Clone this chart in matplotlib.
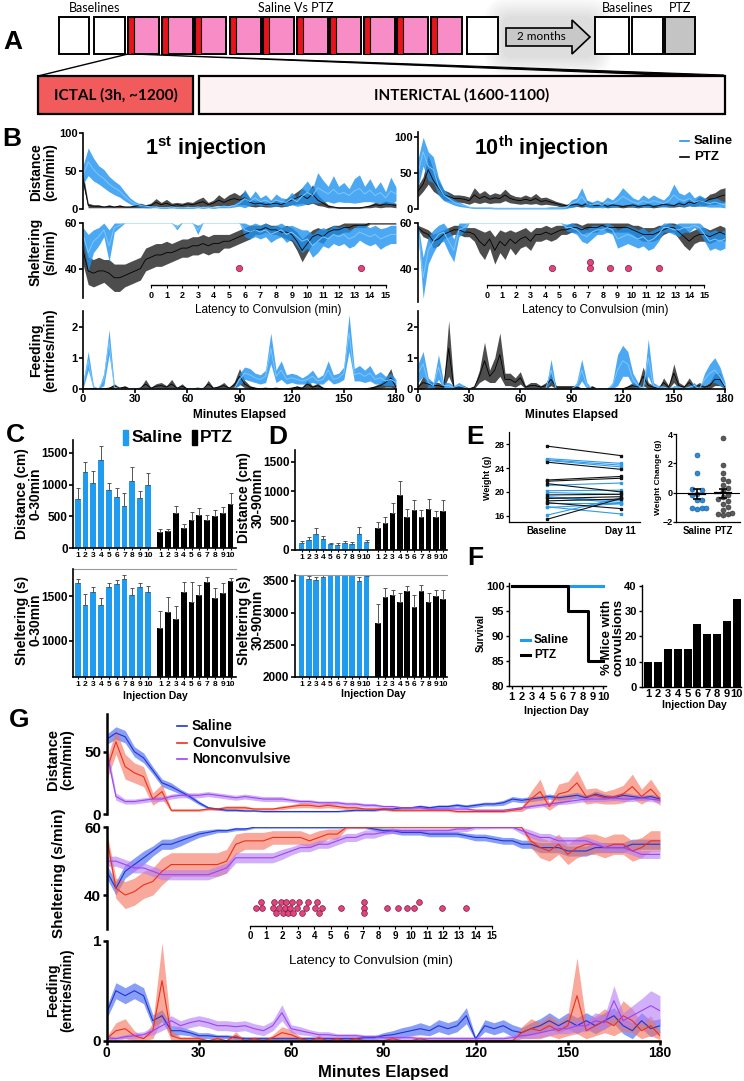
import numpy as np
import matplotlib
matplotlib.use("Agg")
import matplotlib.pyplot as plt
from matplotlib.patches import Rectangle, Polygon, FancyBboxPatch

plt.rcParams['font.family'] = ['Liberation Sans', 'DejaVu Sans']
plt.rcParams['font.weight'] = 'bold'
plt.rcParams['mathtext.fontset'] = 'custom'
plt.rcParams['mathtext.bf'] = 'Liberation Sans:bold'
plt.rcParams['mathtext.rm'] = 'Liberation Sans:bold'

W, H = 744, 1081

# ---------------- data ----------------
minutes = np.arange(0, 181, 3)

# panel B, 1st injection (mean, sem)
b1_dist_sal = [45, 62, 52, 45, 40, 33, 28, 24, 17, 11,
               7, 5, 4, 3, 3, 2, 2, 3, 2, 2,
               2, 2, 3, 2, 3, 2, 3, 4, 3, 5,
               8, 14, 10, 15, 10, 12, 8, 12, 10, 9,
               14, 10, 17, 22, 18, 28, 24, 20, 26, 20,
               22, 18, 24, 27, 20, 25, 18, 22, 15, 24, 20]
b1_dist_sal_sem = [12, 18, 15, 12, 12, 10, 9, 8, 6, 4,
                   3, 2, 2, 1, 1, 1, 1, 1, 1, 1,
                   1, 1, 1, 1, 1, 1, 1, 2, 1, 2,
                   4, 12, 5, 9, 5, 7, 4, 8, 5, 5,
                   8, 6, 12, 15, 9, 20, 14, 10, 18, 10,
                   13, 9, 16, 18, 10, 15, 9, 14, 8, 18, 9]
b1_dist_ptz = [40, 5, 4, 4, 3, 4, 3, 4, 3, 3,
               4, 5, 4, 5, 9, 6, 8, 5, 6, 5,
               7, 6, 8, 10, 6, 8, 12, 9, 12, 14,
               12, 15, 9, 7, 8, 6, 7, 8, 6, 9,
               12, 15, 18, 14, 20, 12, 8, 4, 3, 2,
               2, 2, 2, 2, 3, 4, 6, 5, 7, 6, 5]
b1_dist_ptz_sem = [8, 3, 2, 2, 1, 2, 1, 2, 1, 1,
                   2, 3, 2, 3, 5, 3, 5, 3, 3, 3,
                   3, 3, 5, 6, 3, 4, 7, 5, 7, 8,
                   6, 9, 5, 4, 4, 3, 4, 4, 3, 5,
                   6, 8, 10, 8, 12, 7, 4, 2, 1, 1,
                   1, 1, 1, 1, 1, 2, 3, 3, 4, 3, 3]
b1_shel_sal = [55, 47, 52, 54, 57, 50, 58, 59, 60, 60,
               60, 60, 60, 60, 60, 60, 60, 60, 58, 60,
               60, 60, 57, 60, 60, 60, 60, 60, 60, 60,
               60, 57, 56, 57, 56, 57, 55, 56, 57, 55,
               56, 54, 52, 53, 50, 52, 54, 53, 55, 54,
               55, 53, 54, 56, 55, 54, 55, 53, 54, 55, 55]
b1_shel_sal_sem = [3, 8, 5, 4, 3, 7, 2, 1, 0, 0,
                   0, 0, 0, 0, 0, 0, 0, 0, 1, 0,
                   0, 0, 2, 0, 0, 0, 0, 0, 0, 0,
                   0, 3, 3, 3, 3, 3, 3.5, 3, 3, 3.5,
                   3, 4, 5, 4, 5, 5, 4, 4, 4, 4,
                   4, 4, 4, 3.5, 4, 4, 4, 4.5, 4, 4, 4]
b1_shel_ptz = [48, 39, 38, 39, 39, 38, 36, 36, 37, 38,
               39, 40, 44, 45, 46, 46, 47, 47, 48, 49,
               49, 50, 50, 51, 50, 51, 51, 52, 52, 53,
               54, 55, 56, 57, 57, 58, 57, 57, 56, 56,
               55, 52, 48, 51, 54, 55, 54, 56, 57, 57,
               58, 58, 59, 59, 59, 60, 60, 60, 60, 60, 60]
b1_shel_ptz_sem = [6, 6, 6, 6, 5, 6, 6, 6, 5, 5,
                   5, 5, 5, 5, 5, 5, 5, 4, 4, 4,
                   4, 4, 4, 4, 4, 4, 4, 3, 3, 3,
                   3, 3, 3, 2, 2, 2, 2, 2, 2, 3,
                   3, 4, 5, 4, 3, 3, 3, 2, 2, 2,
                   2, 2, 1, 1, 1, 0.5, 0.5, 0.5, 0.5, 0.5, 0.5]
b1_feed_sal = [0.1, 0.9, 0.05, 0, 0.3, 1.5, 0.05, 0, 0, 0,
               0, 0, 0, 0, 0, 0, 0, 0, 0, 0,
               0, 0, 0, 0, 0, 0, 0, 0, 0, 0,
               0.3, 0.5, 0.45, 0.35, 0.3, 0.4, 1.3, 0.4, 0.6, 0.3,
               0.35, 0.3, 0.25, 0.3, 0.4, 0.25, 0.3, 0.6, 0.3, 0.35,
               0.5, 1.8, 0.45, 0.5, 0.4, 0.5, 0.3, 0.35, 0.25, 0.3, 0.2]
b1_feed_sal_sem = [0.1, 0.3, 0.05, 0, 0.2, 0.4, 0.05, 0, 0, 0,
                   0, 0, 0, 0, 0, 0, 0, 0, 0, 0,
                   0, 0, 0, 0, 0, 0, 0, 0, 0, 0,
                   0.2, 0.2, 0.2, 0.15, 0.15, 0.2, 0.5, 0.2, 0.3, 0.15,
                   0.15, 0.15, 0.1, 0.15, 0.2, 0.1, 0.15, 0.3, 0.15, 0.15,
                   0.2, 0.6, 0.2, 0.25, 0.2, 0.25, 0.15, 0.2, 0.15, 0.2, 0.1]
b1_feed_ptz = [0, 0, 0, 0, 0, 0.02, 0.08, 0.02, 0.05, 0,
               0, 0.02, 0.15, 0.02, 0.08, 0.1, 0.05, 0.15, 0.02, 0.08,
               0, 0, 0.02, 0, 0.15, 0.02, 0.05, 0.1, 0.02, 0.12,
               0.4, 0.15, 0.05, 0.02, 0, 0.02, 0, 0.02, 0, 0,
               0.02, 0.05, 0.02, 0.15, 0.05, 0.1, 0.02, 0, 0, 0,
               0, 0, 0, 0, 0, 0.02, 0.05, 0.1, 0.2, 0.35, 0.05]
b1_feed_ptz_sem = [0, 0, 0, 0, 0, 0.02, 0.08, 0.02, 0.05, 0,
                   0, 0.02, 0.15, 0.02, 0.08, 0.1, 0.05, 0.15, 0.02, 0.08,
                   0, 0, 0.02, 0, 0.12, 0.02, 0.05, 0.1, 0.02, 0.1,
                   0.25, 0.12, 0.05, 0.02, 0, 0.02, 0, 0.02, 0, 0,
                   0.02, 0.05, 0.02, 0.12, 0.05, 0.08, 0.02, 0, 0, 0,
                   0, 0, 0, 0, 0, 0.02, 0.05, 0.08, 0.15, 0.3, 0.05]

# panel B, 10th injection
b10_dist_sal = [50, 80, 60, 55, 32, 20, 15, 10, 7, 5,
                3, 2, 2, 2, 2, 1.5, 1.5, 1.5, 1.5, 1.5,
                1.5, 1.5, 1.5, 1.5, 1.5, 1.5, 2, 2, 2, 3,
                8, 10, 18, 8, 6, 8, 6, 10, 8, 12,
                18, 14, 10, 8, 12, 9, 12, 10, 8, 12,
                20, 14, 12, 15, 10, 12, 10, 8, 10, 8, 6]
b10_dist_sal_sem = [20, 20, 20, 18, 12, 8, 6, 4, 3, 2,
                    1, 1, 1, 1, 1, 1, 1, 1, 1, 1,
                    1, 1, 1, 1, 1, 1, 1.5, 1.5, 1.5, 2,
                    5, 6, 12, 5, 4, 5, 4, 7, 5, 8,
                    12, 9, 6, 5, 8, 6, 8, 6, 5, 8,
                    15, 9, 8, 10, 6, 8, 6, 5, 7, 5, 4]
b10_dist_ptz = [25, 35, 55, 40, 30, 20, 18, 15, 15, 14,
                12, 20, 15, 18, 14, 16, 15, 20, 15, 13,
                12, 14, 12, 15, 11, 12, 10, 8, 6, 5,
                6, 7, 5, 8, 6, 5, 7, 4, 6, 5,
                4, 5, 6, 4, 5, 6, 4, 5, 7, 6,
                5, 8, 6, 10, 8, 12, 10, 14, 15, 18, 20]
b10_dist_ptz_sem = [8, 10, 20, 15, 10, 7, 6, 5, 5, 5,
                    5, 10, 7, 8, 6, 7, 6, 8, 6, 5,
                    5, 6, 5, 7, 5, 5, 4, 3, 3, 2,
                    3, 3, 2, 4, 3, 2, 3, 2, 3, 2,
                    2, 2, 3, 2, 2, 3, 2, 2, 3, 3,
                    2, 4, 3, 5, 4, 6, 5, 7, 8, 10, 10]
b10_shel_sal = [58, 36, 48, 52, 55, 56, 52, 48, 57, 58,
                60, 60, 60, 60, 60, 60, 60, 60, 60, 60,
                60, 60, 60, 60, 60, 60, 60, 60, 60, 58,
                58, 57, 55, 54, 56, 57, 57, 58, 57, 53,
                54, 55, 54, 53, 54, 52, 53, 55, 58, 58,
                57, 57, 58, 58, 59, 58, 55, 52, 53, 52, 53]
b10_shel_sal_sem = [2, 9, 6, 5, 4, 4, 5, 5, 3, 2,
                    0, 0, 0, 0, 0, 0, 0, 0, 0, 0,
                    0, 0, 0, 0, 0, 0, 0, 0, 0, 1.5,
                    2, 2, 3, 3, 3, 2, 2, 2, 2, 4,
                    4, 4, 4, 4, 4, 4, 4, 3, 2, 2,
                    2, 3, 2, 2, 1, 2, 3, 4, 4, 4, 4]
b10_shel_ptz = [58, 56, 55, 52, 53, 55, 56, 57, 57, 56,
                56, 55, 52, 50, 53, 48, 52, 50, 53, 51,
                53, 54, 52, 55, 55, 56, 55, 56, 57, 57,
                58, 58, 57, 58, 58, 58, 59, 58, 58, 58,
                58, 58, 57, 56, 55, 55, 55, 56, 57, 58,
                58, 56, 54, 52, 54, 55, 55, 54, 55, 56, 55]
b10_shel_ptz_sem = [1, 2, 2, 3, 3, 2, 2, 2, 2, 2,
                    2, 3, 5, 6, 4, 6, 5, 6, 4, 5,
                    4, 4, 4, 3, 3, 3, 3, 3, 2, 2,
                    2, 2, 2, 2, 2, 2, 1, 2, 2, 2,
                    2, 2, 2, 3, 3, 3, 3, 3, 2, 2,
                    2, 3, 4, 4, 3, 3, 3, 3, 3, 3, 3]
b10_feed_sal = [0.5, 0.8, 0.2, 0.1, 0.7, 0.1, 0.1, 0.05, 0.1, 0.05,
                0, 0, 0, 0, 0, 0, 0, 0, 0, 0,
                0, 0, 0, 0, 0, 0, 0.6, 0, 0, 0,
                0, 0.1, 0.6, 0.1, 0, 0, 0, 0, 0.1, 0.6,
                0.9, 0.8, 0.3, 0.1, 0, 1.0, 0.1, 0.05, 0.05, 0,
                0.05, 0.05, 0, 0.05, 0.1, 0, 0.3, 0.5, 0.6, 0.4, 0.1]
b10_feed_sal_sem = [0.3, 0.4, 0.15, 0.1, 0.4, 0.1, 0.1, 0.05, 0.1, 0.05,
                    0, 0, 0, 0, 0, 0, 0, 0, 0, 0,
                    0, 0, 0, 0, 0, 0, 0.35, 0, 0, 0,
                    0, 0.1, 0.35, 0.1, 0, 0, 0, 0, 0.1, 0.5,
                    0.5, 0.4, 0.2, 0.1, 0, 0.6, 0.1, 0.05, 0.05, 0,
                    0.05, 0.05, 0, 0.05, 0.1, 0, 0.2, 0.3, 0.4, 0.3, 0.1]
b10_feed_ptz = [0.05, 0.2, 0.15, 0.1, 0.1, 0.05, 1.3, 0.05, 0.05, 0.05,
                0, 0.05, 0.4, 0.9, 0.4, 0.6, 1.1, 0.3, 0.3, 0.2,
                0.35, 0.05, 0.1, 0.1, 0.05, 0.1, 0.3, 0.05, 0.05, 0.05,
                0.05, 0.05, 0, 0, 0.05, 0, 0, 0, 0, 0,
                0, 0.05, 0.1, 0.05, 0.4, 0.1, 0.05, 0, 0.2, 0.05,
                0.5, 0.1, 0.05, 0.2, 0.05, 0.1, 0.05, 0.1, 0.3, 0.3, 0.05]
b10_feed_ptz_sem = [0.05, 0.2, 0.1, 0.1, 0.1, 0.05, 0.9, 0.05, 0.05, 0.05,
                    0, 0.05, 0.2, 0.6, 0.2, 0.4, 0.7, 0.2, 0.2, 0.15,
                    0.2, 0.05, 0.1, 0.1, 0.05, 0.1, 0.2, 0.05, 0.05, 0.05,
                    0.05, 0.05, 0, 0, 0.05, 0, 0, 0, 0, 0,
                    0, 0.05, 0.1, 0.05, 0.3, 0.1, 0.05, 0, 0.15, 0.05,
                    0.3, 0.1, 0.05, 0.15, 0.05, 0.1, 0.05, 0.1, 0.2, 0.2, 0.05]

latency_1st = [5.65, 13.4]
latency_10th = [4.5, 7.1, 7.1, 8.5, 9.75, 11.9]

# panels C, D
days = np.arange(1, 11)
c_dist_sal = [770, 1190, 1030, 1390, 915, 810, 665, 1050, 795, 995]
c_dist_sal_err = [180, 160, 190, 220, 115, 130, 210, 220, 110, 180]
c_dist_ptz = [260, 270, 550, 320, 450, 515, 440, 505, 550, 695]
c_dist_ptz_err = [50, 40, 120, 60, 115, 125, 85, 90, 105, 180]
c_shel_sal = [1649, 1399, 1541, 1399, 1601, 1638, 1687, 1511, 1601, 1541]
c_shel_sal_err = [37, 123, 56, 75, 45, 37, 48, 75, 45, 71]
c_shel_ptz = [1138, 1325, 1239, 1548, 1437, 1511, 1660, 1474, 1530, 1672]
c_shel_ptz_err = [194, 168, 153, 104, 224, 112, 48, 112, 119, 34]
d_dist_sal = [125, 170, 272, 187, 96, 91, 119, 108, 272, 130]
d_dist_sal_err = [34, 45, 102, 51, 28, 34, 40, 34, 125, 40]
d_dist_ptz = [368, 453, 623, 934, 555, 679, 555, 696, 555, 662]
d_dist_ptz_err = [113, 113, 170, 238, 142, 170, 125, 170, 108, 187]
d_shel_sal = [3598, 3530, 3515, 3570, 3600, 3600, 3600, 3600, 3505, 3585]
d_shel_sal_err = [10, 50, 40, 20, 0, 0, 0, 0, 60, 15]
d_shel_ptz = [2846, 3254, 3280, 3176, 3348, 3097, 3343, 3176, 3270, 3218]
d_shel_ptz_err = [293, 131, 78, 141, 78, 183, 94, 141, 89, 141]

# panel E
wt_sal_base = [25.6, 25.4, 25.3, 21.1, 20.2, 19.9, 19.2, 19.1, 18.2, 17.5, 17.4, 16.1]
wt_sal_day11 = [24.8, 24.5, 24.2, 21.5, 20.3, 19.6, 18.5, 18.2, 18.2, 16.3, 18.0, 19.0]
wt_ptz_base = [27.7, 25.0, 22.0, 21.8, 21.4, 19.5, 18.9, 18.2, 18.5, 15.4]
wt_ptz_day11 = [26.1, 23.8, 22.6, 22.3, 20.0, 19.6, 19.2, 17.2, 18.8, 18.9]
wchg_sal = [2.57, 1.36, 0.23, 0.2, -0.07, -0.2, -0.48, -0.5, -1.03, -1.03, -1.05, -1.1]
wchg_ptz = [3.77, 1.88, 1.36, 0.92, 0.8, 0.5, 0.28, 0.1, -0.14, -0.3, -0.46, -0.6,
            -0.76, -1.0, -1.2, -1.38, -1.45, -1.5, -1.56]

# panel F
surv_sal = [100, 100, 100, 100, 100, 100, 100, 100, 100, 100]
surv_ptz = [100, 100, 100, 100, 100, 100, 95, 95, 85, 85]
pct_conv = [10, 10, 15, 15, 15, 25, 21, 21, 26, 35]

# panel G
g_dist_sal = [60, 65, 62, 50, 45, 35, 25, 22, 18, 14,
              9, 5, 4, 3, 3, 2.5, 2.5, 2, 2, 2,
              2, 2, 2, 2, 2, 2, 2.5, 3, 3, 3,
              4, 4, 5, 5, 6, 5, 6, 6, 7, 6,
              7, 8, 8, 9, 12, 11, 12, 13, 14, 13,
              14, 15, 13, 16, 14, 13, 15, 14, 13, 14, 12]
g_dist_sal_sem = [4, 5, 5, 4, 4, 3, 3, 3, 2, 2,
                  1.5, 1, 1, 0.8, 0.8, 0.6, 0.5, 0.5, 0.5, 0.5,
                  0.5, 0.5, 0.5, 0.5, 0.5, 0.5, 0.6, 0.7, 0.7, 0.8,
                  1, 1, 1, 1, 1.2, 1.2, 1.3, 1.3, 1.4, 1.4,
                  1.5, 1.5, 1.5, 2, 2, 2, 2, 2, 2, 2,
                  2, 2.5, 2, 2.5, 2, 2, 2.5, 2, 2, 2, 2]
g_dist_conv = [35, 58, 38, 33, 30, 12, 18, 3, 3, 3,
               3, 4, 4, 5, 5, 5, 4, 4, 4, 5,
               6, 7, 7, 6, 7, 6, 5, 5, 4, 4,
               4, 3, 3, 3, 3, 3, 3, 3, 2, 2,
               2, 2, 2, 2, 3, 4, 12, 18, 6, 16,
               18, 25, 14, 15, 13, 14, 16, 22, 14, 20, 12]
g_dist_conv_sem = [8, 10, 10, 8, 8, 5, 6, 1, 1, 1,
                   1, 1, 1, 1.5, 1.5, 1.5, 1, 1, 1, 1.5,
                   1.5, 2, 2, 1.5, 2, 1.5, 1.5, 1.5, 1, 1,
                   1, 1, 1, 1, 1, 1, 1, 1, 0.8, 0.8,
                   0.8, 0.8, 0.8, 0.8, 1, 2, 6, 10, 3, 8,
                   8, 10, 6, 6, 5, 6, 7, 10, 6, 8, 5]
g_dist_non = [50, 14, 10, 10, 11, 12, 12, 14, 15, 15,
              15, 16, 15, 14, 13, 14, 13, 12, 12, 12,
              11, 10, 10, 9, 9, 9, 8, 8, 7, 7,
              6, 6, 5, 5, 5, 4, 4, 4, 4, 4,
              3, 3, 3, 3, 4, 5, 6, 7, 8, 9,
              10, 11, 12, 12, 12, 13, 12, 12, 13, 12, 11]
g_dist_non_sem = [6, 3, 2, 2, 2, 2, 2, 2, 2, 2,
                  2, 2, 2, 2, 2, 2, 2, 2, 2, 2,
                  1.5, 1.5, 1.5, 1.5, 1.5, 1.5, 1.5, 1.5, 1.5, 1.5,
                  1, 1, 1, 1, 1, 1, 1, 1, 1, 1,
                  1, 1, 1, 1, 1, 1, 1.5, 1.5, 1.5, 1.5,
                  2, 2, 2, 2, 2, 2, 2, 2, 2, 2, 2]
g_shel_sal = [47, 42, 47, 49, 51, 53, 55, 55, 56, 57,
              58, 58.5, 59, 59, 59.5, 59.5, 60, 60, 60, 60,
              60, 60, 60, 60, 60, 60, 60, 60, 60, 59.5,
              59, 59, 58.5, 58.5, 58.5, 58, 58, 58, 58, 57.5,
              57, 57, 56.5, 56, 56, 55, 55, 54, 54, 54,
              53, 53, 53, 54, 54, 54, 54, 55, 55, 55, 55]
g_shel_sal_sem = [2, 2, 2, 2, 2, 1.5, 1.5, 1.5, 1.5, 1.2,
                  1, 0.8, 0.6, 0.5, 0.5, 0.4, 0.3, 0.3, 0.3, 0.3,
                  0.3, 0.3, 0.3, 0.3, 0.3, 0.3, 0.3, 0.4, 0.4, 0.5,
                  0.8, 0.8, 0.8, 0.8, 0.8, 0.8, 0.8, 0.8, 0.8, 0.8,
                  1, 1, 1, 1, 1, 1.2, 1.2, 1.5, 1.5, 1.5,
                  1.5, 1.5, 1.5, 1.5, 1.5, 1.5, 1.5, 1.5, 1.5, 1.5, 1.5]
g_shel_conv = [57, 42, 40, 41, 43, 44, 47, 49, 49, 49,
               49, 49, 49, 50, 55, 56, 56, 56, 57, 57,
               57, 57, 56, 57, 58, 58, 60, 60, 60, 60,
               60, 60, 60, 60, 60, 60, 60, 60, 60, 60,
               60, 60, 60, 60, 60, 60, 56, 54, 53, 55,
               52, 54, 55, 55, 54, 55, 55, 53, 54, 56, 56]
g_shel_conv_sem = [2, 3, 4, 4, 4, 4, 4, 3.5, 3.5, 3.5,
                   3.5, 3.5, 3.5, 3.5, 3, 2.5, 2.5, 2.5, 2, 2,
                   2, 2, 2, 2, 1.5, 1.5, 0.5, 0.3, 0.3, 0.3,
                   0.2, 0.2, 0.2, 0.2, 0.2, 0.2, 0.2, 0.2, 0.2, 0.2,
                   0.2, 0.2, 0.2, 0.2, 0.2, 0.2, 2, 3, 3, 3,
                   3, 3, 3, 3, 3, 3, 3, 3, 3, 3, 3]
g_shel_non = [50, 50, 49, 48, 48, 47, 46, 46, 46, 46,
              46, 46, 47, 48, 51, 51, 51, 51, 51, 52,
              53, 54, 54, 55, 55, 56, 57, 57, 58, 58,
              58.5, 59, 59, 59, 59, 59, 59, 59, 59.5, 59.5,
              60, 60, 60, 60, 60, 59, 58, 57, 57, 56,
              56, 56, 56, 55, 54, 54, 54, 53, 52, 52, 52]
g_shel_non_sem = [1.5, 1.5, 1.5, 1.5, 1.5, 1.5, 1.5, 1.5, 1.5, 1.5,
                  1.5, 1.5, 1.5, 1.5, 1.5, 1.5, 1.5, 1.5, 1.5, 1.5,
                  1.2, 1.2, 1.2, 1.2, 1.2, 1.2, 1.2, 1.2, 1.2, 1.2,
                  0.8, 0.8, 0.8, 0.8, 0.8, 0.8, 0.8, 0.8, 0.8, 0.8,
                  0.5, 0.5, 0.4, 0.4, 0.4, 1, 1.2, 1.2, 1.2, 1.2,
                  1.2, 1.2, 1.2, 1.2, 1.2, 1.2, 1.2, 1.2, 1.2, 1.2, 1.2]
g_feed_sal = [0.28, 0.5, 0.45, 0.5, 0.45, 0.2, 0.25, 0.1, 0.1, 0.08,
              0.05, 0.05, 0.04, 0.04, 0.03, 0.02, 0.02, 0.02, 0.02, 0.02,
              0.02, 0.02, 0.02, 0.02, 0.02, 0.02, 0.02, 0.02, 0.03, 0.03,
              0.05, 0.06, 0.08, 0.1, 0.12, 0.1, 0.15, 0.12, 0.15, 0.25,
              0.02, 0.15, 0.12, 0.15, 0.1, 0.08, 0.12, 0.15, 0.2, 0.15,
              0.2, 0.15, 0.2, 0.15, 0.2, 0.25, 0.15, 0.1, 0.2, 0.12, 0.15]
g_feed_sal_sem = [0.06, 0.08, 0.08, 0.08, 0.08, 0.06, 0.06, 0.05, 0.04, 0.03,
                  0.03, 0.03, 0.02, 0.02, 0.02, 0.02, 0.02, 0.02, 0.02, 0.02,
                  0.02, 0.02, 0.02, 0.02, 0.02, 0.02, 0.02, 0.02, 0.02, 0.02,
                  0.03, 0.04, 0.05, 0.05, 0.06, 0.05, 0.06, 0.06, 0.06, 0.08,
                  0.02, 0.06, 0.06, 0.06, 0.06, 0.05, 0.06, 0.07, 0.08, 0.07,
                  0.08, 0.08, 0.08, 0.08, 0.08, 0.08, 0.08, 0.08, 0.08, 0.08, 0.07]
g_feed_conv = [0.02, 0.1, 0.12, 0.05, 0.02, 0.1, 0.6, 0.05, 0.02, 0.02,
               0.02, 0, 0.02, 0, 0.05, 0, 0.02, 0, 0.03, 0.08,
               0.06, 0.02, 0, 0.03, 0, 0.02, 0, 0.02, 0, 0,
               0, 0.02, 0, 0, 0.02, 0, 0, 0, 0, 0,
               0, 0, 0, 0, 0, 0.08, 0.12, 0.1, 0.15, 0.1,
               0.15, 0.45, 0.1, 0.15, 0.2, 0.15, 0.25, 0.2, 0.1, 0.15, 0.05]
g_feed_conv_sem = [0.02, 0.08, 0.1, 0.05, 0.02, 0.08, 0.38, 0.05, 0.02, 0.02,
                   0.02, 0, 0.02, 0, 0.04, 0, 0.02, 0, 0.03, 0.06,
                   0.05, 0.02, 0, 0.03, 0, 0.02, 0, 0.02, 0, 0,
                   0, 0.02, 0, 0, 0.02, 0, 0, 0, 0, 0,
                   0, 0, 0, 0, 0, 0.06, 0.1, 0.08, 0.1, 0.08,
                   0.1, 0.38, 0.08, 0.1, 0.12, 0.1, 0.15, 0.12, 0.08, 0.1, 0.04]
g_feed_non = [0.03, 0.02, 0.04, 0.05, 0.06, 0.1, 0.15, 0.2, 0.15, 0.18,
              0.2, 0.18, 0.15, 0.15, 0.14, 0.15, 0.12, 0.1, 0.15, 0.28,
              0.12, 0.1, 0.08, 0.06, 0.06, 0.05, 0.05, 0.05, 0.04, 0.04,
              0.03, 0.03, 0.03, 0.03, 0.02, 0.02, 0.02, 0.02, 0.02, 0.02,
              0.02, 0.02, 0.02, 0.02, 0.03, 0.05, 0.06, 0.08, 0.1, 0.12,
              0.12, 0.15, 0.15, 0.2, 0.18, 0.4, 0.2, 0.25, 0.3, 0.35, 0.3]
g_feed_non_sem = [0.02, 0.02, 0.02, 0.03, 0.03, 0.04, 0.05, 0.05, 0.05, 0.05,
                  0.05, 0.05, 0.05, 0.05, 0.05, 0.05, 0.05, 0.05, 0.05, 0.08,
                  0.04, 0.04, 0.03, 0.03, 0.03, 0.02, 0.02, 0.02, 0.02, 0.02,
                  0.02, 0.02, 0.02, 0.02, 0.02, 0.02, 0.02, 0.02, 0.02, 0.02,
                  0.02, 0.02, 0.02, 0.02, 0.03, 0.03, 0.04, 0.05, 0.05, 0.05,
                  0.05, 0.06, 0.06, 0.08, 0.07, 0.15, 0.08, 0.1, 0.12, 0.15, 0.15]

latency_all = [0.37, 0.68, 0.72, 1.45, 1.5, 1.62, 1.8, 1.95, 2.05, 2.15, 2.25,
               2.35, 2.5, 2.6, 2.7, 2.9, 3.05, 3.2, 3.45, 3.6, 4.05, 4.15, 4.3,
               4.5, 5.63, 7.1, 7.1, 7.1, 8.5, 9.2, 9.75, 10.2, 10.5, 11.9, 13.4]

# ---------------- styles ----------------
SAL_FILL, SAL_LINE = '#1f93f0', '#7cc8fb'
PTZ_FILL, PTZ_LINE = '#3a3a3a', '#000000'
BAR_BLUE = '#1f9bf0'
G_COL = {'sal': ('#3a5df0', '#2035d0'),
         'conv': ('#f5705a', '#ee3018'),
         'non': ('#b57cf5', '#9b45f0')}
DOT = '#e2447d'

fig = plt.figure(figsize=(W / 100, H / 100), dpi=100)


def rect(x0, x1, ytop, ybot):
    return [x0 / W, 1 - ybot / H, (x1 - x0) / W, (ybot - ytop) / H]


def ftext(x, y, s, **kw):
    kw.setdefault('ha', 'center')
    kw.setdefault('va', 'center')
    fig.text(x / W, 1 - y / H, s, **kw)


def band(ax, mean, sem, fill, line, alpha, top=None, lw=0.7):
    mean = np.asarray(mean, float)
    sem = np.asarray(sem, float)
    lo = np.clip(mean - sem, 0, None)
    hi = mean + sem
    if top is not None:
        hi = np.minimum(hi, top)
    ax.fill_between(minutes, lo, hi, color=fill, alpha=alpha, lw=0)
    ax.plot(minutes, mean, color=line, lw=lw)


def style_ts(ax, ylim, yticks, bottom=False, lw=1.2, fs=8):
    ax.set_xlim(0, 180)
    ax.set_ylim(*ylim)
    ax.set_yticks(yticks)
    ax.spines[['top', 'right']].set_visible(False)
    ax.spines['left'].set_linewidth(lw)
    if bottom:
        ax.set_xticks(range(0, 181, 30))
        ax.spines['bottom'].set_linewidth(lw)
    else:
        ax.spines['bottom'].set_visible(False)
        ax.set_xticks([])
    ax.tick_params(labelsize=fs, width=lw, length=3, pad=1)
    ax.patch.set_alpha(0)


def swarm(vals, scale, d, rows):
    placed, offs = [], []
    for v in vals:
        x = v * scale
        pick, best = rows[0] * d, -1.0
        for r in rows:
            y = r * d
            gap = min([np.hypot(x - px, y - py) for px, py in placed], default=1e9)
            if gap >= d:
                pick = y
                break
            if gap > best:
                best, pick = gap, y
        placed.append((x, pick))
        offs.append(pick)
    return np.array(offs)


def latency_axis(x0, x1, yaxis, lat, dot_y, d, s, fs, lfs, labelpad):
    ax = fig.add_axes(rect(x0, x1, yaxis - 30, yaxis))
    ax.set_xlim(0, 15)
    ax.set_ylim(0, 30)
    ax.patch.set_alpha(0)
    ax.spines[['top', 'right', 'left']].set_visible(False)
    ax.spines['bottom'].set_linewidth(1.0)
    ax.set_yticks([])
    ax.set_xticks(range(16))
    ax.tick_params(labelsize=fs, length=2.5, pad=1.5)
    lat = np.sort(lat)
    offs = swarm(lat, (x1 - x0) / 15, d, (0, 1, -1))
    ax.scatter(lat, dot_y + offs, s=s, color=DOT, edgecolor='#7a1a40', lw=0.5,
               zorder=3, clip_on=False)
    ax.set_xlabel('Latency to Convulsion (min)', fontsize=lfs, labelpad=labelpad)
    return ax


# ---------------- panel A (schematic) ----------------
axA = fig.add_axes([0, 0, 1, 1])
axA.set_xlim(0, W)
axA.set_ylim(H, 0)
axA.axis('off')
for i in range(8):
    axA.add_patch(FancyBboxPatch((503 - 2.5 * i, 17 - 2.5 * i), 90 + 5 * i, 40 + 5 * i,
                                 boxstyle='round,pad=1,rounding_size=%d' % (10 + 2 * i),
                                 fc='#8a8a8a', ec='none', alpha=0.035))
box_kw = dict(ec='black', lw=1.4)
for x0, x1 in [(59, 89), (94, 125), (467, 498), (595, 629), (632, 663)]:
    axA.add_patch(Rectangle((x0, 17), x1 - x0, 37, fc='white', **box_kw))
axA.add_patch(Rectangle((665, 17), 30, 37, fc='#c4c4c4', **box_kw))
for x0 in [128, 162, 195, 230, 263, 297, 330, 364, 397, 431]:
    axA.add_patch(Rectangle((x0, 17), 31, 37, fc='#f78cc6', **box_kw))
    axA.add_patch(Rectangle((x0, 17), 6, 37, fc='#e8141c', ec='black', lw=0.8))
axA.add_patch(Polygon([(506, 28), (572, 28), (572, 20), (590, 37), (572, 54),
                       (572, 46), (506, 46)], closed=True, fc='#c8c8c8', ec='black', lw=1.2))
axA.text(541, 37, '2 months', ha='center', va='center', fontsize=8.5,
         family='Lato', fontweight='normal')
for x, s in [(95, 'Baselines'), (296, 'Saline Vs PTZ'), (628, 'Baselines'), (680, 'PTZ')]:
    axA.text(x, 8, s, ha='center', va='center', fontsize=9, family='Lato',
             fontweight='normal')
axA.plot([128, 38], [54, 76], color='black', lw=1.0)
axA.add_patch(Polygon([(131, 54), (724, 75), (724, 77.5)], closed=True, fc='black',
                      ec='black', lw=0.8))
axA.add_patch(Rectangle((38, 76), 155, 38, fc='#f25b5b', ec='black', lw=1.6))
axA.add_patch(Rectangle((199, 76), 526, 38, fc='#fdf2f3', ec='black', lw=1.6))
axA.text(116, 95, 'ICTAL (3h, ~1200)', ha='center', va='center', fontsize=11,
         family='Lato', fontweight='bold')
axA.text(462, 95, 'INTERICTAL (1600-1100)', ha='center', va='center', fontsize=11,
         family='Lato', fontweight='bold')

# ---------------- panel B ----------------
cols = [(83, 396, 132.7, b1_dist_sal, b1_dist_sal_sem, b1_dist_ptz, b1_dist_ptz_sem,
         b1_shel_sal, b1_shel_sal_sem, b1_shel_ptz, b1_shel_ptz_sem,
         b1_feed_sal, b1_feed_sal_sem, b1_feed_ptz, b1_feed_ptz_sem, 100, 298.3, 27),
        (418, 725, 132.3, b10_dist_sal, b10_dist_sal_sem, b10_dist_ptz, b10_dist_ptz_sem,
         b10_shel_sal, b10_shel_sal_sem, b10_shel_ptz, b10_shel_ptz_sem,
         b10_feed_sal, b10_feed_sal_sem, b10_feed_ptz, b10_feed_ptz_sem, 107, 301.7, 25.5)]
for (x0, x1, ytop, ds, dse, dp, dpe, ss, sse, sp, spe, fs_, fse, fp, fpe,
     dtop, sbot, smin) in cols:
    ax = fig.add_axes(rect(x0, x1, ytop, 209.3))
    band(ax, dp, dpe, PTZ_FILL, PTZ_LINE, 0.9, lw=0.6)
    band(ax, ds, dse, SAL_FILL, SAL_LINE, 0.8, lw=0.7)
    style_ts(ax, (0, dtop), [0, 50, 100])

    ax = fig.add_axes(rect(x0, x1, 223, sbot))
    band(ax, sp, spe, PTZ_FILL, PTZ_LINE, 0.9, top=60, lw=0.6)
    band(ax, ss, sse, SAL_FILL, SAL_LINE, 0.8, top=60, lw=0.7)
    style_ts(ax, (smin, 60), [40, 60])

    ax = fig.add_axes(rect(x0, x1, 311.2, 388.7))
    band(ax, fp, fpe, PTZ_FILL, PTZ_LINE, 0.9, lw=0.6)
    band(ax, fs_, fse, SAL_FILL, SAL_LINE, 0.8, lw=0.7)
    style_ts(ax, (0, 2.5), [0, 1, 2], bottom=True)
    ftext((x0 + x1) / 2, 415, 'Minutes Elapsed', fontsize=8.5)

latency_axis(151, 385.6, 285, latency_1st, 17, 6, 20, 6.5, 8.5, 3)
latency_axis(487, 704.3, 285, latency_10th, 17, 6, 20, 6.5, 8.5, 3)

ftext(206, 148, r'1$^{\mathbf{st}}$ injection', fontsize=15.5)
ftext(541, 148, r'10$^{\mathbf{th}}$ injection', fontsize=15.5)
for y, s in [(172, 'Distance\n(cm/min)'), (252, 'Sheltering\n(s/min)'),
             (350, 'Feeding\n(entries/min)')]:
    ftext(43, y, s, rotation=90, fontsize=10, linespacing=1.05)
fig.add_artist(plt.Line2D([680 / W, 689 / W], [1 - 141 / H] * 2, color=SAL_FILL, lw=1.2))
fig.add_artist(plt.Line2D([680 / W, 689 / W], [1 - 157 / H] * 2, color='black', lw=1.2))
ftext(694, 141, 'Saline', fontsize=9.5, ha='left')
ftext(694, 157, 'PTZ', fontsize=9.5, ha='left')


# ---------------- panels C, D ----------------
def bar_panel(x0, x1, ytop, ybot, xlim, ylim, yticks, sal, sal_e, ptz, ptz_e, topline=False):
    ax = fig.add_axes(rect(x0, x1, ytop, ybot))
    xs = np.arange(10)
    xp = xs + 10.6
    ax.bar(xs, sal, 0.75, color=BAR_BLUE)
    ax.bar(xp, ptz, 0.75, color='black')
    ax.errorbar(xs, sal, yerr=[np.zeros(10), sal_e], fmt='none', ecolor='#555555',
                elinewidth=0.7, capsize=1.6, capthick=0.7)
    ax.errorbar(xp, ptz, yerr=[np.zeros(10), ptz_e], fmt='none', ecolor='#555555',
                elinewidth=0.7, capsize=1.6, capthick=0.7)
    ax.set_xlim(*xlim)
    ax.set_ylim(*ylim)
    ax.set_yticks(yticks)
    ax.set_xticks(np.r_[xs, xp])
    ax.set_xticklabels([str(d) for d in days] * 2)
    ax.spines[['top', 'right']].set_visible(False)
    ax.spines[['left', 'bottom']].set_linewidth(1.2)
    ax.tick_params(axis='y', labelsize=8.5, width=1.2, length=3, pad=1)
    ax.tick_params(axis='x', labelsize=6, width=0.8, length=1.5, pad=1.5)
    if topline:
        ax.axhline(ylim[1], color='#9a9a9a', lw=0.8, clip_on=False)
    return ax


bar_panel(73.3, 236, 440, 548.3, (-0.56, 20.3), (0, 1700), [0, 500, 1000, 1500],
          c_dist_sal, c_dist_sal_err, c_dist_ptz, c_dist_ptz_err)
bar_panel(73.3, 236, 569.2, 676.5, (-0.56, 20.3), (600, 1800), [1000, 1500],
          c_shel_sal, c_shel_sal_err, c_shel_ptz, c_shel_ptz_err, topline=True)
bar_panel(295, 446.7, 450, 550, (-0.93, 20.1), (0, 1700), [0, 500, 1000, 1500],
          d_dist_sal, d_dist_sal_err, d_dist_ptz, d_dist_ptz_err)
bar_panel(295, 446.7, 574.6, 676.7, (-0.93, 20.1), (2000, 3600), [2000, 2500, 3000, 3500],
          d_shel_sal, d_shel_sal_err, d_shel_ptz, d_shel_ptz_err, topline=True)
ftext(29, 494, 'Distance (cm)\n0-30min', rotation=90, fontsize=10, linespacing=0.95)
ftext(29, 620, 'Sheltering (s)\n0-30min', rotation=90, fontsize=10, linespacing=0.95)
ftext(251, 498, 'Distance (cm)\n30-90min', rotation=90, fontsize=10, linespacing=0.95)
ftext(251, 620, 'Sheltering (s)\n30-90min', rotation=90, fontsize=10, linespacing=0.95)
ftext(155, 696, 'Injection Day', fontsize=7.5)
ftext(373, 694, 'Injection Day', fontsize=7.5)
fig.add_artist(Rectangle((123 / W, 1 - 445 / H), 5 / W, 15 / H, color=BAR_BLUE,
                         transform=fig.transFigure))
fig.add_artist(Rectangle((192 / W, 1 - 445 / H), 5 / W, 15 / H, color='black',
                         transform=fig.transFigure))
ftext(132, 437, 'Saline', fontsize=12.5, ha='left')
ftext(200, 437, 'PTZ', fontsize=12.5, ha='left')

# ---------------- panel E ----------------
ax = fig.add_axes(rect(509.3, 640, 432.4, 521.7))
for b, d in zip(wt_sal_base, wt_sal_day11):
    ax.plot([0, 1], [b, d], color='#2c9bea', lw=0.8, marker='s', ms=1.8)
for b, d in zip(wt_ptz_base, wt_ptz_day11):
    ax.plot([0, 1], [b, d], color='#111111', lw=0.8, marker='s', ms=1.8)
ax.set_xlim(-0.51, 1.26)
ax.set_ylim(15, 30)
ax.set_yticks([16, 20, 24, 28])
ax.set_xticks([0, 1])
ax.set_xticklabels(['Baseline', 'Day 11'])
ax.spines[['top', 'right']].set_visible(False)
ax.spines[['left', 'bottom']].set_linewidth(0.9)
ax.tick_params(axis='y', labelsize=6.5, width=0.9, length=2.5, pad=1)
ax.tick_params(axis='x', labelsize=7, length=0, pad=3)
ftext(488, 478, 'Weight (g)', rotation=90, fontsize=6.5)

ax = fig.add_axes(rect(676, 740, 434.3, 521.7))
for i, (vals, fc, ec) in enumerate([(wchg_sal, '#2c8ad8', '#1a5a90'),
                                    (wchg_ptz, '#5a5a5a', '#333333')]):
    v = np.sort(vals)
    off = swarm(v, 14.5, 4.6, (0, 1, -1, 2, -2))
    ax.scatter(i + off / 26, v, s=13, color=fc, edgecolor=ec, lw=0.4, zorder=3)
    m = np.mean(v)
    se = np.std(v, ddof=1) / np.sqrt(len(v))
    ax.plot([i - 0.32, i + 0.32], [m, m], color='black', lw=1.6, zorder=4)
    ax.errorbar([i], [m], yerr=[[se], [se]], fmt='none', ecolor='black', elinewidth=1.2,
                capsize=3, capthick=1.2, zorder=4)
ax.axhline(0, color='black', lw=0.8, zorder=2)
ax.set_xlim(-0.81, 1.65)
ax.set_ylim(-2, 4)
ax.set_yticks([-2, 0, 2, 4])
ax.set_xticks([0, 1])
ax.set_xticklabels(['Saline', 'PTZ'])
ax.spines[['top', 'right']].set_visible(False)
ax.spines[['left', 'bottom']].set_linewidth(0.9)
ax.tick_params(axis='y', labelsize=6.5, width=0.9, length=2, pad=0.5)
ax.tick_params(axis='x', labelsize=7, length=0, pad=3)
ftext(659, 477, 'Weight Change (g)', rotation=90, fontsize=6)

# ---------------- panel F ----------------
ax = fig.add_axes(rect(509.3, 606, 583.2, 686))
ax.step(days, surv_sal, where='mid', color='#1f9bf0', lw=2.2)
ax.step(days, surv_ptz, where='mid', color='black', lw=2.2)
ax.set_xlim(0.764, 10.26)
ax.set_ylim(80, 100.5)
ax.set_yticks([80, 85, 90, 95, 100])
ax.set_xticks(days)
ax.spines[['top', 'right']].set_visible(False)
ax.spines[['left', 'bottom']].set_linewidth(1.0)
ax.tick_params(axis='y', labelsize=8, width=1.0, length=2.5, pad=1)
ax.tick_params(axis='x', labelsize=8, width=1.0, length=2.5, pad=1.5)
ftext(556.7, 710.7, 'Injection Day', fontsize=7.5)
ftext(481, 633, 'Survival', rotation=90, fontsize=7)
fig.add_artist(plt.Line2D([521 / W, 530 / W], [1 - 640 / H] * 2, color='#1f9bf0', lw=2.2))
fig.add_artist(plt.Line2D([521 / W, 530 / W], [1 - 655 / H] * 2, color='black', lw=2.2))
ftext(534, 640, 'Saline', fontsize=8.5, ha='left')
ftext(534, 655, 'PTZ', fontsize=8.5, ha='left')

ax = fig.add_axes(rect(641.7, 741, 584.7, 686.7))
ax.bar(days, pct_conv, 0.82, color='black')
ax.set_xlim(0.33, 10.44)
ax.set_ylim(0, 40.5)
ax.set_yticks([0, 10, 20, 30, 40])
ax.set_xticks(days)
ax.spines[['top', 'right']].set_visible(False)
ax.spines[['left', 'bottom']].set_linewidth(1.0)
ax.tick_params(axis='y', labelsize=8, width=1.0, length=2.5, pad=1)
ax.tick_params(axis='x', labelsize=8, length=0, pad=1.5)
ftext(694, 705, 'Injection Day', fontsize=7.5)
ftext(613, 637, '% Mice with\nconvulsions', rotation=90, fontsize=9.5, linespacing=0.95)

# ---------------- panel G ----------------
g_sets = [('sal', g_dist_sal, g_dist_sal_sem, g_shel_sal, g_shel_sal_sem, g_feed_sal, g_feed_sal_sem),
          ('conv', g_dist_conv, g_dist_conv_sem, g_shel_conv, g_shel_conv_sem, g_feed_conv, g_feed_conv_sem),
          ('non', g_dist_non, g_dist_non_sem, g_shel_non, g_shel_non_sem, g_feed_non, g_feed_non_sem)]
axd = fig.add_axes(rect(106.7, 660, 714.3, 814))
axs = fig.add_axes(rect(106.7, 660, 827.3, 928.9))
axf = fig.add_axes(rect(106.7, 660, 940.7, 1040.7))
for key, dm, dse, sm, sse, fm, fse in g_sets:
    fill, line = G_COL[key]
    band(axd, dm, dse, fill, line, 0.6, lw=0.8)
    band(axs, sm, sse, fill, line, 0.6, top=60, lw=0.8)
    band(axf, fm, fse, fill, line, 0.6, lw=0.8)
style_ts(axd, (0, 80), [0, 50], lw=1.8, fs=11)
style_ts(axs, (30, 60), [40, 60], lw=1.8, fs=11)
style_ts(axf, (0, 1), [0, 1], bottom=True, lw=1.8, fs=11)
axf.tick_params(axis='x', labelsize=10)
ftext(383, 1073, 'Minutes Elapsed', fontsize=12)
latency_axis(250, 491.5, 925.7, latency_all, 18, 5.5, 17, 7, 9.5, 10)
ftext(60, 760, 'Distance\n(cm/min)', rotation=90, fontsize=10.5, linespacing=1.05)
ftext(59, 873, 'Sheltering (s/min)', rotation=90, fontsize=11)
ftext(60, 990, 'Feeding\n(entries/min)', rotation=90, fontsize=10, linespacing=1.05)
for y, key, s in [(726, 'sal', 'Saline'), (742.7, 'conv', 'Convulsive'),
                  (759.3, 'non', 'Nonconvulsive')]:
    fig.add_artist(plt.Line2D([177 / W, 187 / W], [1 - y / H] * 2, color=G_COL[key][1], lw=1.2))
    ftext(192, y, s, fontsize=10, ha='left')

# panel letters
for x, y, s in [(13, 42, 'A'), (12, 139, 'B'), (15, 435, 'C'), (278, 437, 'D'),
                (475, 437, 'E'), (475, 558, 'F'), (19, 720, 'G')]:
    ftext(x, y, s, fontsize=19)

fig.savefig('out.png', dpi=100)
